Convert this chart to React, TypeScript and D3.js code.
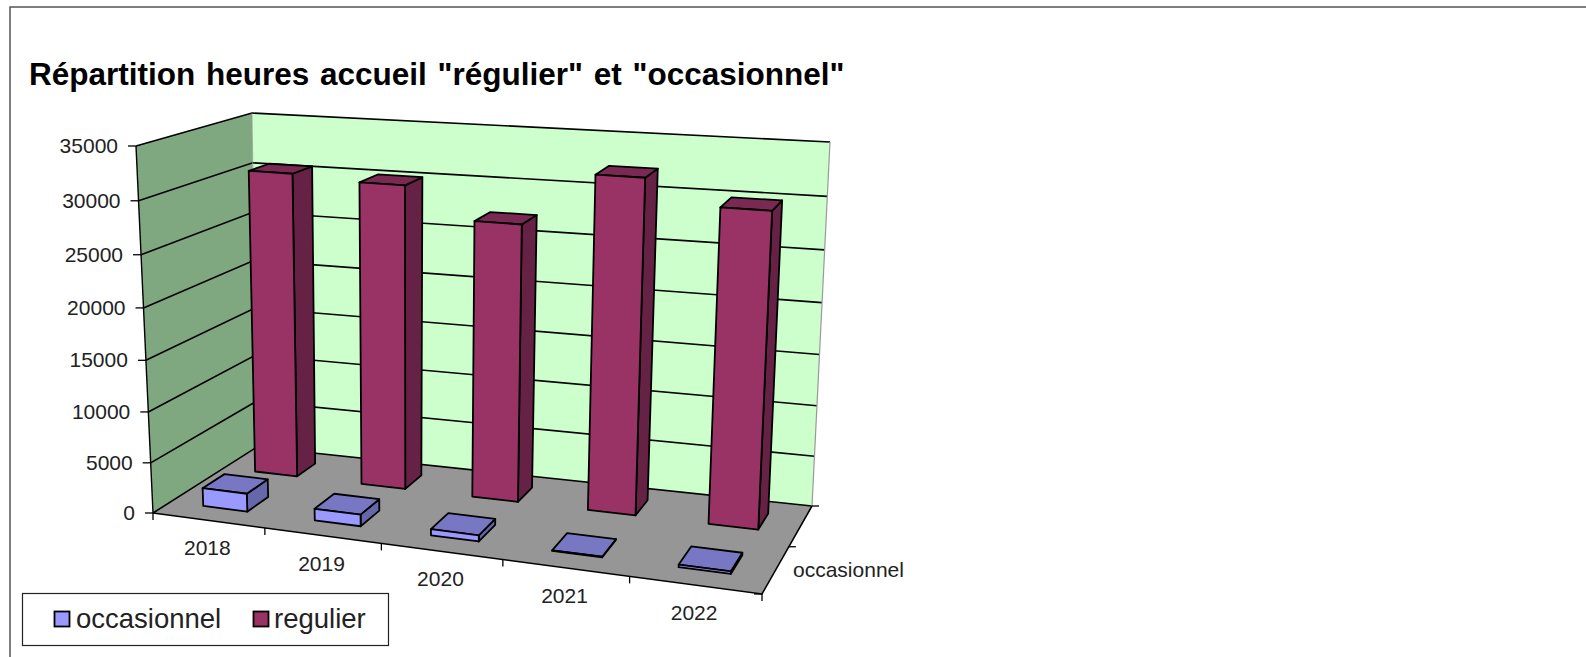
import React from 'react';
import * as d3 from 'd3';

const years = ['2018', '2019', '2020', '2021', '2022'];
const seriesNames = ['occasionnel', 'regulier'];
const occasionnel = [1800, 1150, 600, 60, 250];
const regulier = [30600, 30200, 27250, 32350, 30100];
const yTicks = [0, 5000, 10000, 15000, 20000, 25000, 30000, 35000];

const W = 1586;
const H = 657;
const FONT = '"Liberation Sans", Arial, sans-serif';

// screen positions of the box corners
const floorCorners = { fl: [153, 513], fr: [762, 594], br: [812, 506], bl: [257, 447] };
const topCorners = { fl: [136, 146], fr: [780, 194], br: [830, 142], bl: [252, 113] };

// foreshortening along each edge of the box
const warp = (g: number) => (t: number) => (t * (1 + g)) / (1 + g * t);
const warpU = warp(-0.1);
const warpD = warp(0.16);
const warpZ = warp(-0.05);

const lerp = (a: number, b: number, t: number) => a + (b - a) * t;

const project = (u: number, d: number, z: number): [number, number] => {
  const U = warpU(u), D = warpD(d), Z = warpZ(z);
  const corner = (c: typeof floorCorners, i: number) =>
    lerp(lerp(c.fl[i], c.fr[i], U), lerp(c.bl[i], c.br[i], U), D);
  return [
    lerp(corner(floorCorners, 0), corner(topCorners, 0), Z),
    lerp(corner(floorCorners, 1), corner(topCorners, 1), Z),
  ];
};

const xScale = d3.scaleBand<string>().domain(years).range([0, 1]).paddingInner(0.6).paddingOuter(0.3);
const yearBand = d3.scaleBand<string>().domain(years).range([0, 1]);
const depthScale = d3.scaleBand<string>().domain(seriesNames).range([0, 1]).paddingInner(0.6).paddingOuter(0.3);
const zScale = d3.scaleLinear().domain([0, 35000]).range([0, 1]);

const line = d3.line();
const poly = (pts: [number, number][]) => line(pts) + 'Z';

const LINE = '#000';

const Bar = ({ year, name, value, front, top, side }: any) => {
  const u0 = xScale(year)!, u1 = u0 + xScale.bandwidth();
  const d0 = depthScale(name)!, d1 = d0 + depthScale.bandwidth();
  const z = zScale(value);
  return (
    <g stroke={LINE} strokeWidth={1.8} strokeLinejoin="round">
      <path d={poly([project(u1, d0, 0), project(u1, d1, 0), project(u1, d1, z), project(u1, d0, z)])} fill={side} />
      <path d={poly([project(u0, d0, z), project(u1, d0, z), project(u1, d1, z), project(u0, d1, z)])} fill={top} />
      <path d={poly([project(u0, d0, 0), project(u1, d0, 0), project(u1, d0, z), project(u0, d0, z)])} fill={front} />
    </g>
  );
};

export default function App() {
  const tick = (p: [number, number], dx: number, dy: number, key: string) => (
    <line key={key} x1={p[0]} y1={p[1]} x2={p[0] + dx} y2={p[1] + dy} stroke={LINE} strokeWidth={1.3} />
  );
  return (
    <svg width={W} height={H} style={{ position: 'absolute', left: 0, top: 0, background: '#fff' }}>
      {/* outer frame */}
      <path d={`M${W} 7H10V${H}`} fill="none" stroke="#555" strokeWidth={1.5} />

      <text x={29} y={85} fontFamily={FONT} fontWeight="bold" fontSize={31.5} wordSpacing={2} fill="#000">
        Répartition heures accueil "régulier" et "occasionnel"
      </text>

      {/* walls and floor */}
      <path d={poly([project(0, 0, 0), project(0, 1, 0), project(0, 1, 1), project(0, 0, 1)])} fill="#80A880" />
      <path d={poly([project(0, 1, 0), project(1, 1, 0), project(1, 1, 1), project(0, 1, 1)])} fill="#CCFFCC" />
      <path d={poly([project(0, 0, 0), project(1, 0, 0), project(1, 1, 0), project(0, 1, 0)])} fill="#969696" />

      {/* gridlines */}
      {yTicks.map((t) => {
        const z = zScale(t);
        return (
          <path
            key={t}
            d={line([project(0, 0, z), project(0, 1, z), project(1, 1, z)])!}
            fill="none"
            stroke={LINE}
            strokeWidth={1.6}
          />
        );
      })}
      <path d={line([project(1, 1, 1), project(1, 1, 0)])!} fill="none" stroke="#999" strokeWidth={1.2} />
      <path d={line([project(0, 1, 0), project(0, 1, 1)])!} fill="none" stroke="#999" strokeWidth={0.8} />

      {/* axes */}
      <path d={line([project(0, 0, 0), project(0, 0, 1)])!} fill="none" stroke={LINE} strokeWidth={1.4} />
      <path d={line([project(0, 0, 0), project(1, 0, 0), project(1, 1, 0)])!} fill="none" stroke={LINE} strokeWidth={1.6} />
      {yTicks.map((t) => tick(project(0, 0, zScale(t)), -8, 0, `y${t}`))}
      {years.map((y) => tick(project(yearBand(y)!, 0, 0), 0, 7, `x${y}`))}
      {tick(project(1, 0, 0), 0, 7, 'xend')}
      {tick(project(1, 0, 0), -8, 0, 'dfront')}
      {tick(project(1, 0.5, 0), 7, 0, 'dmid')}
      {tick(project(1, 1, 0), 7, 0, 'dback')}

      {/* y labels */}
      {yTicks.map((t) => {
        const p = project(0, 0, zScale(t));
        return (
          <text key={t} x={p[0] - 18} y={p[1] + 7} textAnchor="end" fontFamily={FONT} fontSize={21} fill="#222">
            {t}
          </text>
        );
      })}

      {/* x labels */}
      {years.map((y) => {
        const p = project(yearBand(y)! + yearBand.bandwidth() / 2, 0, 0);
        return (
          <text key={y} x={p[0] - 1} y={p[1] + 35} textAnchor="middle" fontFamily={FONT} fontSize={21} fill="#222">
            {y}
          </text>
        );
      })}
      <text x={793} y={577} fontFamily={FONT} fontSize={21} fill="#222">
        {seriesNames[0]}
      </text>

      {/* back row first */}
      {years.map((y, i) => (
        <Bar key={y} year={y} name="regulier" value={regulier[i]} front="#993366" top="#7A2952" side="#662244" />
      ))}
      {years.map((y, i) => (
        <Bar key={y} year={y} name="occasionnel" value={occasionnel[i]} front="#9999FF" top="#7777C4" side="#6666AA" />
      ))}

      {/* legend */}
      <rect x={22.5} y={593.5} width={366} height={52} fill="#fff" stroke="#222" strokeWidth={1.2} />
      <rect x={54.5} y={611.5} width={15} height={15} fill="#9999FF" stroke="#000" strokeWidth={1.8} />
      <text x={76} y={628} fontFamily={FONT} fontSize={27.5} fill="#222">
        {seriesNames[0]}
      </text>
      <rect x={253.5} y={611.5} width={15} height={15} fill="#993366" stroke="#000" strokeWidth={1.8} />
      <text x={274} y={628} fontFamily={FONT} fontSize={27.5} fill="#222">
        {seriesNames[1]}
      </text>
    </svg>
  );
}
